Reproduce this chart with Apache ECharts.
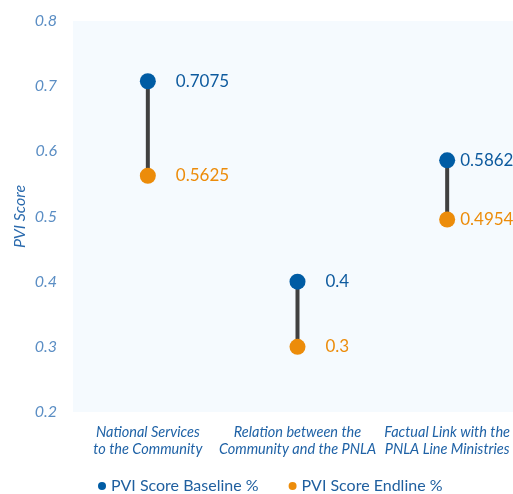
<!DOCTYPE html>
<html>
<head>
<meta charset="utf-8">
<script src="https://cdn.jsdelivr.net/npm/echarts@6/dist/echarts.min.js"></script>
<style>
  html, body { margin: 0; padding: 0; background: #fff; }
  #main { width: 513px; height: 494px; }
</style>
</head>
<body>
<div id="main"></div>
<script>
const categories = [
  "National Services\nto the Community",
  "Relation between the\nCommunity and the PNLA",
  "Factual Link with the\nPNLA Line Ministries"
];
const baseline = [0.7075, 0.4, 0.5862];
const endline = [0.5625, 0.3, 0.4954];
const yTicks = [0.2, 0.3, 0.4, 0.5, 0.6, 0.7, 0.8];

const BLUE = "#005ca4";
const ORANGE = "#ec8c0a";
const FONT = "Lato";

// label distances differ a bit (right-most one is squeezed against the edge)
const labelDist = [20, 20, 5];

const chart = echarts.init(document.getElementById("main"), null, { renderer: "canvas" });

const option = {
  animation: false,
  textStyle: { fontFamily: FONT },
  grid: {
    show: true,
    left: 73,
    top: 21,
    bottom: 82,
    width: 449,
    outerBoundsMode: "none",
    borderWidth: 0,
    backgroundColor: "#f5fafe",
  },
  legend: {
    top: 473,
    left: 93,
    icon: "circle",
    itemWidth: 8,
    itemHeight: 8,
    itemGap: 30,
    textStyle: { fontSize: 16, color: "#1f5f9f", fontFamily: FONT },
    data: ["PVI Score Baseline %", "PVI Score Endline %"],
  },
  xAxis: {
    type: "category",
    data: categories,
    axisLine: { show: false },
    axisTick: { show: false },
    splitLine: { show: false },
    axisLabel: {
      interval: 0,
      margin: 12,
      fontSize: 14.5,
      fontStyle: "italic",
      color: "#1f62a6",
      lineHeight: 17,
      fontFamily: FONT,
    },
  },
  yAxis: {
    type: "value",
    min: yTicks[0],
    max: yTicks[yTicks.length - 1],
    interval: 0.1,
    name: "PVI Score",
    nameLocation: "middle",
    nameGap: 45,
    nameMoveOverlap: false,
    nameTextStyle: { fontSize: 16, fontStyle: "italic", color: "#2a6aad", fontFamily: FONT },
    axisLine: { show: false },
    axisTick: { show: false },
    splitLine: { show: false },
    axisLabel: {
      margin: 16,
      fontSize: 16,
      fontStyle: "italic",
      color: "#5b8ec4",
      fontFamily: FONT,
      formatter: (v) => v.toFixed(1),
    },
  },
  series: [
    {
      name: "connector",
      type: "custom",
      silent: true,
      z: 1,
      renderItem: (params, api) => {
        const p1 = api.coord([api.value(0), api.value(1)]);
        const p2 = api.coord([api.value(0), api.value(2)]);
        return {
          type: "line",
          shape: { x1: p1[0], y1: p1[1], x2: p2[0], y2: p2[1] },
          style: { stroke: "#404040", lineWidth: 4 },
        };
      },
      data: categories.map((c, i) => [i, baseline[i], endline[i]]),
    },
    {
      name: "PVI Score Baseline %",
      type: "scatter",
      z: 3,
      symbolSize: 16,
      itemStyle: { color: BLUE, opacity: 1 },
      label: {
        show: true,
        position: "right",
        fontSize: 17,
        color: "#0d5a9e",
        fontFamily: FONT,
      },
      data: baseline.map((v, i) => ({ value: v, label: { distance: labelDist[i] } })),
    },
    {
      name: "PVI Score Endline %",
      type: "scatter",
      z: 3,
      symbolSize: 16,
      itemStyle: { color: ORANGE, opacity: 1 },
      label: {
        show: true,
        position: "right",
        fontSize: 17,
        color: ORANGE,
        fontFamily: FONT,
      },
      data: endline.map((v, i) => ({ value: v, label: { distance: labelDist[i] } })),
    },
  ],
};

chart.setOption(option);
</script>
</body>
</html>
